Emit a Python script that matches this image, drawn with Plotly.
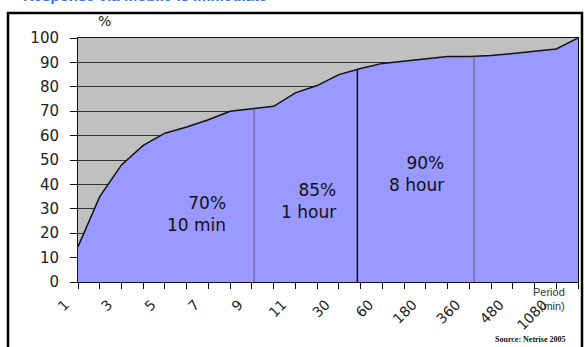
import plotly.graph_objects as go

# ---- data ----
categories = ["1", "2", "3", "4", "5", "6", "7", "8", "9", "10", "11", "20",
              "30", "45", "60", "120", "180", "240", "360", "420", "480", "720",
              "1080", "1440"]
tick_labels = ["1", "", "3", "", "5", "", "7", "", "9", "", "11", "",
               "30", "", "60", "", "180", "", "360", "", "480", "", "1080", ""]
cumulative_pct = [14.5, 35, 48, 56, 61, 63.5, 66.5, 70, 71, 72, 77.5, 80.5,
                  85, 87.5, 89.6, 90.5, 91.5, 92.4, 92.4, 92.8, 93.6, 94.6,
                  95.5, 100]
y_ticks = [0, 10, 20, 30, 40, 50, 60, 70, 80, 90, 100]

# marker lines (category-index position, height) and labels
marker_pos = [8.1, 12.85, 18.22]
marker_top = [71.0, 87.2, 92.4]
marker_colors = ["#5c5c85", "#111111", "#5c5c85"]
marker_widths = [1, 1.5, 1]
band_text = ["70%<br>10 min", "85%<br>1 hour", "90%<br>8 hour"]
band_x = [6.9, 11.95, 16.95]
band_y = [27.8, 33.2, 44.2]

# ---- layout geometry ----
W, H = 585, 347
ML, MR, MT, MB = 78, 7, 38, 65
PW, PH = W - ML - MR, H - MT - MB

def px_x(p):
    return (p - ML) / PW

def px_y(p):
    return (H - MB - p) / PH

fig = go.Figure()
fig.add_trace(go.Scatter(
    x=categories, y=cumulative_pct, mode="lines",
    fill="tozeroy", fillcolor="#9999FF",
    line=dict(color="#111111", width=1.5),
    hoverinfo="skip", showlegend=False,
))

shapes = []
for xp, yt, c, w in zip(marker_pos, marker_top, marker_colors, marker_widths):
    shapes.append(dict(type="line", xref="x", yref="y", x0=xp, x1=xp,
                       y0=0, y1=yt, line=dict(color=c, width=w)))
# outer chart frame
shapes.append(dict(type="rect", xref="paper", yref="paper",
                   x0=px_x(8), x1=px_x(582), y0=px_y(400), y1=px_y(13),
                   line=dict(color="#000000", width=2.5), layer="above"))

annotations = []
for t, xa, ya in zip(band_text, band_x, band_y):
    annotations.append(dict(text=t, x=xa, y=ya, xref="x", yref="y",
                            xanchor="right", yanchor="middle", align="right",
                            showarrow=False,
                            font=dict(family="DejaVu Sans", size=17, color="#111111")))
annotations.append(dict(text="%", x=px_x(104), y=px_y(21), xref="paper", yref="paper",
                        showarrow=False, xanchor="center", yanchor="middle",
                        font=dict(family="DejaVu Sans", size=14, color="#222222")))
annotations.append(dict(text="Period<br>(min)", x=px_x(567), y=px_y(299),
                        xref="paper", yref="paper", showarrow=False,
                        xanchor="right", yanchor="middle", align="right",
                        font=dict(family="Liberation Sans", size=11, color="#333333")))
annotations.append(dict(text="<b>Source: Netrise 2005</b>", x=px_x(568), y=px_y(339),
                        xref="paper", yref="paper", showarrow=False,
                        xanchor="right", yanchor="middle",
                        font=dict(family="Liberation Serif", size=8, color="#111111")))
annotations.append(dict(text="<b>Response via mobile is immediate</b>",
                        x=px_x(21), y=px_y(-4), xref="paper", yref="paper",
                        showarrow=False, xanchor="left", yanchor="middle",
                        font=dict(family="Liberation Sans", size=15, color="#3A6FD8")))

fig.update_layout(
    width=W, height=H,
    margin=dict(l=ML, r=MR, t=MT, b=MB, pad=0),
    paper_bgcolor="#FFFFFF", plot_bgcolor="#C0C0C0",
    shapes=shapes, annotations=annotations,
    xaxis=dict(
        type="category", tickmode="array", tickvals=categories, ticktext=tick_labels,
        range=[0, len(categories) - 1], tickangle=-45,
        ticks="outside", ticklen=6, tickcolor="#111111",
        showline=True, linecolor="#111111", linewidth=1, mirror=True,
        showgrid=False, zeroline=False,
        tickfont=dict(family="DejaVu Sans", size=14, color="#222222"),
        ticklabelshift=-13, ticklabelstandoff=2,
    ),
    yaxis=dict(
        range=[0, 100], tickmode="array", tickvals=y_ticks,
        ticks="outside", ticklen=7, tickcolor="#111111",
        showline=True, linecolor="#111111", linewidth=1, mirror=True,
        showgrid=True, gridcolor="#333333", gridwidth=1, zeroline=False,
        tickfont=dict(family="DejaVu Sans", size=15, color="#222222"),
        ticklabelstandoff=8,
    ),
)

fig.write_html(
    "out.html",
    config={"displayModeBar": False},
    post_script="document.body.style.margin='0';document.body.style.overflow='hidden';",
)
